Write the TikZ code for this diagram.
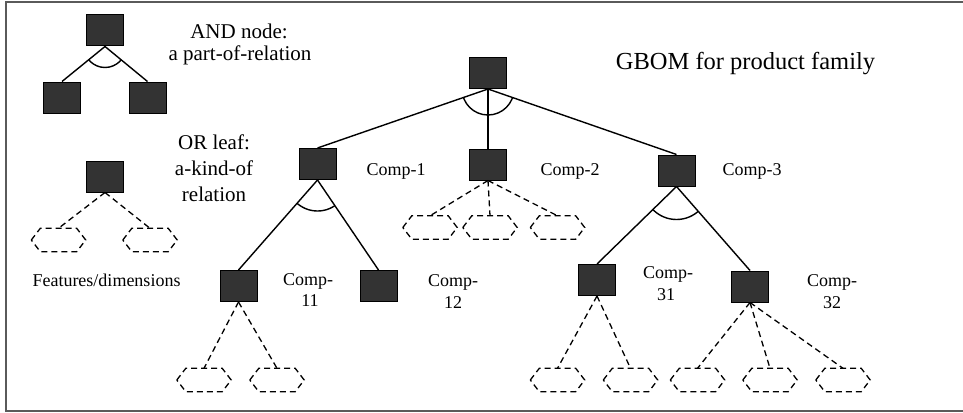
\documentclass[tikz,border=0pt]{standalone}
\usepackage{fontspec}
\setmainfont{Liberation Serif}
\definecolor{boxfill}{RGB}{51,51,51}
\definecolor{framecol}{RGB}{90,90,90}
\newcommand\hexoutline[1]{\draw[hexline] (#1.west) -- ([xshift=9pt]#1.north west) -- ([xshift=-9pt]#1.north east) -- (#1.east) -- ([xshift=-9pt]#1.south east) -- ([xshift=9pt]#1.south west) -- cycle;}
\begin{document}
\begin{tikzpicture}[x=1pt,y=-1pt,
  comp/.style={draw=black,fill=boxfill,line width=1pt,minimum width=37pt,minimum height=31pt,inner sep=0pt},
  feat/.style={draw=none,minimum width=54pt,minimum height=23pt,inner sep=0pt},
  hexline/.style={draw=black,line width=1.3pt,dash pattern=on 6pt off 4pt},
  link/.style={draw=black,line width=1.4pt},
  flink/.style={draw=black,line width=1.3pt,dash pattern=on 6pt off 4pt},
  andarc/.style={draw=black,line width=1.4pt},
  lgtext/.style={font=\fontsize{21}{23}\selectfont,anchor=base,inner sep=0pt},
  cmtext/.style={font=\fontsize{18}{21}\selectfont,anchor=base,inner sep=0pt},
  titletext/.style={font=\fontsize{24.5}{28}\selectfont,anchor=base,inner sep=0pt}]
\useasboundingbox (0,0) rectangle (963,412);
\draw[framecol,line width=1.8pt] (963,2) -- (6,2) -- (6,411) -- (963,411);

% legend AND
\node[comp] (lgA) at (105,30.5) {};
\node[comp] (lgB) at (62,97.5) {};
\node[comp] (lgC) at (147.5,97.5) {};
\draw[link] (lgA.south) -- (lgB.north);
\draw[link] (lgA.south) -- (lgC.north);
\begin{scope}
\clip (lgA.south) -- (lgB.north) -- (lgC.north) -- cycle;
\draw[andarc] (lgA.south) circle (21);
\end{scope}
\node[lgtext] (andA) at (239,38) {AND node:};
\node[lgtext] (andB) at (240,60) {a part-of-relation};

% legend OR
\node[comp] (lgO) at (105,176.5) {};
\node[feat] (lh1) at (58.5,240) {};
\node[feat] (lh2) at (150,240) {};
\hexoutline{lh1}
\hexoutline{lh2}
\draw[flink] (lgO.south) -- (lh1.north);
\draw[flink] (lgO.south) -- (lh2.north);
\node[lgtext] (orA) at (214,149) {OR leaf:};
\node[lgtext] (orB) at (214,175) {a-kind-of};
\node[lgtext] (orC) at (214,201.5) {relation};
\node[cmtext] (feats) at (106.5,286.5) {Features/dimensions};

% title
\node[titletext] (title) at (745.5,70) {GBOM for product family};

% main tree
\node[comp] (root) at (488,73) {};
\node[comp] (c1) at (317.5,164) {};
\node[comp] (c2) at (488,164.5) {};
\node[comp] (c3) at (676.5,170.5) {};
\node[comp] (c11) at (238.5,286) {};
\node[comp] (c12) at (378.5,286) {};
\node[comp] (c31) at (597,280) {};
\node[comp] (c32) at (750,286.5) {};

\draw[link] (root.south) -- (c1.north);
\draw[link] (root.south) -- (c2.north);
\draw[link] (root.south) -- (c3.north);
\begin{scope}
\clip (root.south) -- (c1.north) -- (c3.north) -- cycle;
\draw[andarc] (root.south) circle (26);
\end{scope}

\draw[link] (c1.south) -- (c11.north);
\draw[link] (c1.south) -- (c12.north);
\begin{scope}
\clip (c1.south) -- (c11.north) -- (c12.north) -- cycle;
\draw[andarc] (c1.south) circle (31);
\end{scope}

\draw[link] (c3.south) -- (c31.north);
\draw[link] (c3.south) -- (c32.north);
\begin{scope}
\clip (c3.south) -- (c31.north) -- (c32.north) -- cycle;
\draw[andarc] (c3.south) circle (33);
\end{scope}

% features
\node[feat] (h21) at (430,227.5) {};
\node[feat] (h22) at (490,227.5) {};
\node[feat] (h23) at (557.5,227.5) {};
\hexoutline{h21}
\hexoutline{h22}
\hexoutline{h23}
\draw[flink] (c2.south) -- (h21.north);
\draw[flink] (c2.south) -- (h22.north);
\draw[flink] (c2.south) -- (h23.north);

\node[feat] (h111) at (204,380) {};
\node[feat] (h112) at (277,380) {};
\hexoutline{h111}
\hexoutline{h112}
\draw[flink] (c11.south) -- (h111.north);
\draw[flink] (c11.south) -- (h112.north);

\node[feat] (h311) at (557.5,380) {};
\node[feat] (h312) at (630.5,380) {};
\hexoutline{h311}
\hexoutline{h312}
\draw[flink] (c31.south) -- (h311.north);
\draw[flink] (c31.south) -- (h312.north);

\node[feat] (h321) at (697.5,380) {};
\node[feat] (h322) at (770,380) {};
\node[feat] (h323) at (843,380) {};
\hexoutline{h321}
\hexoutline{h322}
\hexoutline{h323}
\draw[flink] (c32.south) -- (h321.north);
\draw[flink] (c32.south) -- (h322.north);
\draw[flink] (c32.south) -- (h323.north);

% labels
\node[cmtext] (l1) at (396,175) {Comp-1};
\node[cmtext] (l2) at (570,175) {Comp-2};
\node[cmtext] (l3) at (752,175) {Comp-3};
\node[cmtext] (l11a) at (308,285) {Comp-};
\node[cmtext] (l11b) at (310,306) {11};
\node[cmtext] (l12a) at (453,286) {Comp-};
\node[cmtext] (l12b) at (453,308) {12};
\node[cmtext] (l31a) at (668,278) {Comp-};
\node[cmtext] (l31b) at (666,300) {31};
\node[cmtext] (l32a) at (832,286) {Comp-};
\node[cmtext] (l32b) at (832,308) {32};
\end{tikzpicture}
\end{document}
